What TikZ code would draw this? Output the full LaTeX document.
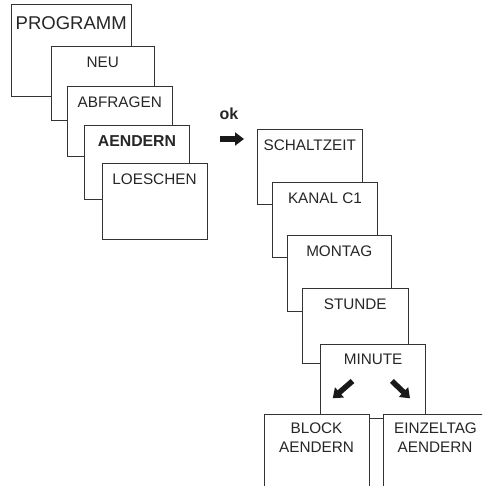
\documentclass[tikz,border=0pt]{standalone}
\usepackage{fontspec}
\setmainfont{Liberation Sans}
\usetikzlibrary{arrows.meta,calc}
\begin{document}
\begin{tikzpicture}[x=1pt,y=-1pt,
  box/.style={draw=black!80,line width=1pt,fill=white,inner sep=0pt,outer sep=0pt,anchor=north west},
  openbox/.style={draw=none,fill=white,inner sep=0pt,outer sep=0pt,anchor=north west},
  edge/.style={draw=black!80,line width=1pt},
  lbl/.style={anchor=base,inner sep=0pt,text=black!85,font=\fontsize{15.3}{18}\selectfont},
  fat/.style={line width=5.5pt,black!90,-{Triangle[length=9pt,width=13pt]}}]
\useasboundingbox (0,0) rectangle (482,486);
\clip (0,0) rectangle (482,486);
% left stack
\node[box,minimum width=119.5pt,minimum height=92pt] (prog) at (11.5,5) {};
\node[lbl,font=\fontsize{18.5}{20}\selectfont] (tprog) at ($(prog.north)+(0,25)$) {PROGRAMM};
\node[box,minimum width=103.5pt,minimum height=74pt] (neu) at (51,47) {};
\node[lbl] (tneu) at ($(neu.north)+(0,20.5)$) {NEU};
\node[box,minimum width=105.5pt,minimum height=70pt] (abf) at (67,87) {};
\node[lbl] (tabf) at ($(abf.north)+(0,20.5)$) {ABFRAGEN};
\node[box,minimum width=105pt,minimum height=73pt] (aen) at (84.5,126) {};
\node[lbl,font=\fontsize{15.8}{18}\selectfont\bfseries] (taen) at ($(aen.north)+(0,21)$) {AENDERN};
\node[box,minimum width=105pt,minimum height=75pt] (loe) at (102,164) {};
\node[lbl] (tloe) at ($(loe.north)+(0,21)$) {LOESCHEN};
% ok arrow
\node[lbl,font=\fontsize{16}{18}\selectfont\bfseries] (ok) at (229,120) {ok};
\coordinate (okA) at (220,139);
\coordinate (okB) at (244,139);
\draw[fat] (okA) -- (okB);
% right stack
\node[box,minimum width=105.5pt,minimum height=75pt] (sch) at (257,129.5) {};
\node[lbl] (tsch) at ($(sch.north)+(0,20.7)$) {SCHALTZEIT};
\node[box,minimum width=105pt,minimum height=75pt] (kan) at (272.5,182.5) {};
\node[lbl] (tkan) at ($(kan.north)+(0,21)$) {KANAL C1};
\node[box,minimum width=103.5pt,minimum height=75.5pt] (mon) at (287.5,235.5) {};
\node[lbl] (tmon) at ($(mon.north)+(0,21.2)$) {MONTAG};
\node[box,minimum width=105.5pt,minimum height=74.5pt] (stu) at (302.5,288.5) {};
\node[lbl] (tstu) at ($(stu.north)+(0,21)$) {STUNDE};
\node[box,minimum width=105.2pt,minimum height=74.3pt] (min) at (320.5,344) {};
\node[lbl] (tmin) at ($(min.north)+(0,20.3)$) {MINUTE};
\coordinate (la) at (352.5,381);
\coordinate (lb) at (332.7,398.3);
\coordinate (ra) at (391.9,381);
\coordinate (rb) at (410,398.3);
\draw[fat] (la) -- (lb);
\draw[fat] (ra) -- (rb);
% bottom open boxes
\node[openbox,minimum width=105pt,minimum height=80pt] (blk) at (264,414) {};
\draw[edge] (blk.south west) -- (blk.north west) -- (blk.north east) -- (blk.south east);
\node[lbl] (tblk1) at ($(blk.north)+(0,19.3)$) {BLOCK};
\node[lbl] (tblk2) at ($(blk.north)+(0,38.3)$) {AENDERN};
\node[openbox,minimum width=105pt,minimum height=80pt] (ein) at (383.3,414) {};
\draw[edge] (ein.south west) -- (ein.north west) -- (ein.north east) -- (ein.south east);
\node[lbl] (tein1) at (435.5,433.3) {EINZELTAG};
\node[lbl] (tein2) at (435,452.3) {AENDERN};
\end{tikzpicture}
\end{document}
